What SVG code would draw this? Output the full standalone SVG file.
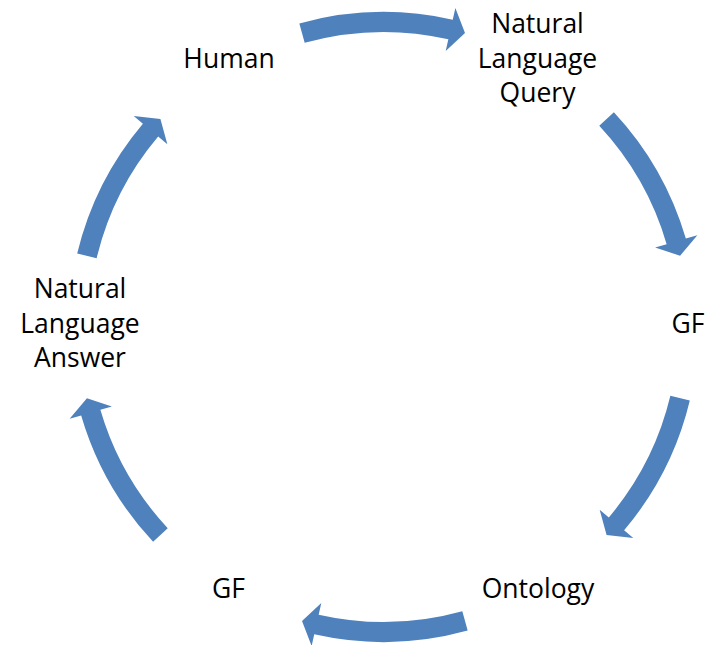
<svg xmlns="http://www.w3.org/2000/svg" width="707" height="645" viewBox="0 0 707 645">
<style>
.arrow{fill:#4F81BD;stroke:none}
.lbl{font-family:"Open Sans","Liberation Sans",sans-serif;font-size:26.5px;fill:#000;text-anchor:middle}
</style>
<rect width="707" height="645" fill="#fff"/>
<g id="connectors">
<path class="arrow" d="M299.33,23.47 A315,315 0 0 1 452.74,19.72 L455.37,8.01 L465.00,33.10 L445.70,50.93 L448.34,39.23 A295,295 0 0 0 304.68,42.74 Z"/>
<path class="arrow" d="M613.89,112.17 A315,315 0 0 1 685.84,238.58 L697.35,235.21 L680.08,255.81 L655.12,247.56 L666.64,244.19 A295,295 0 0 0 599.26,125.81 Z"/>
<path class="arrow" d="M689.81,400.52 A315,315 0 0 1 624.10,530.33 L633.26,538.08 L606.58,535.01 L599.66,509.68 L608.82,517.42 A295,295 0 0 0 670.36,395.85 Z"/>
<path class="arrow" d="M467.67,630.53 A315,315 0 0 1 314.26,634.28 L311.63,645.99 L302.00,620.90 L321.30,603.07 L318.66,614.77 A295,295 0 0 0 462.32,611.26 Z"/>
<path class="arrow" d="M153.11,541.83 A315,315 0 0 1 81.16,415.42 L69.65,418.79 L86.92,398.19 L111.88,406.44 L100.36,409.81 A295,295 0 0 0 167.74,528.19 Z"/>
<path class="arrow" d="M77.19,253.48 A315,315 0 0 1 142.90,123.67 L133.74,115.92 L160.42,118.99 L167.34,144.32 L158.18,136.58 A295,295 0 0 0 96.64,258.15 Z"/>
</g>
<g id="node-human"><text class="lbl" x="229" y="68">Human</text></g>
<g id="node-nlq"><text class="lbl" x="537.5" y="33">Natural</text><text class="lbl" x="537.5" y="68">Language</text><text class="lbl" x="537.5" y="102">Query</text></g>
<g id="node-gf1"><text class="lbl" x="688" y="333">GF</text></g>
<g id="node-ontology"><text class="lbl" x="538" y="598">Ontology</text></g>
<g id="node-gf2"><text class="lbl" x="228.5" y="598">GF</text></g>
<g id="node-nla"><text class="lbl" x="80" y="298">Natural</text><text class="lbl" x="80" y="333">Language</text><text class="lbl" x="80" y="367">Answer</text></g>
</svg>
